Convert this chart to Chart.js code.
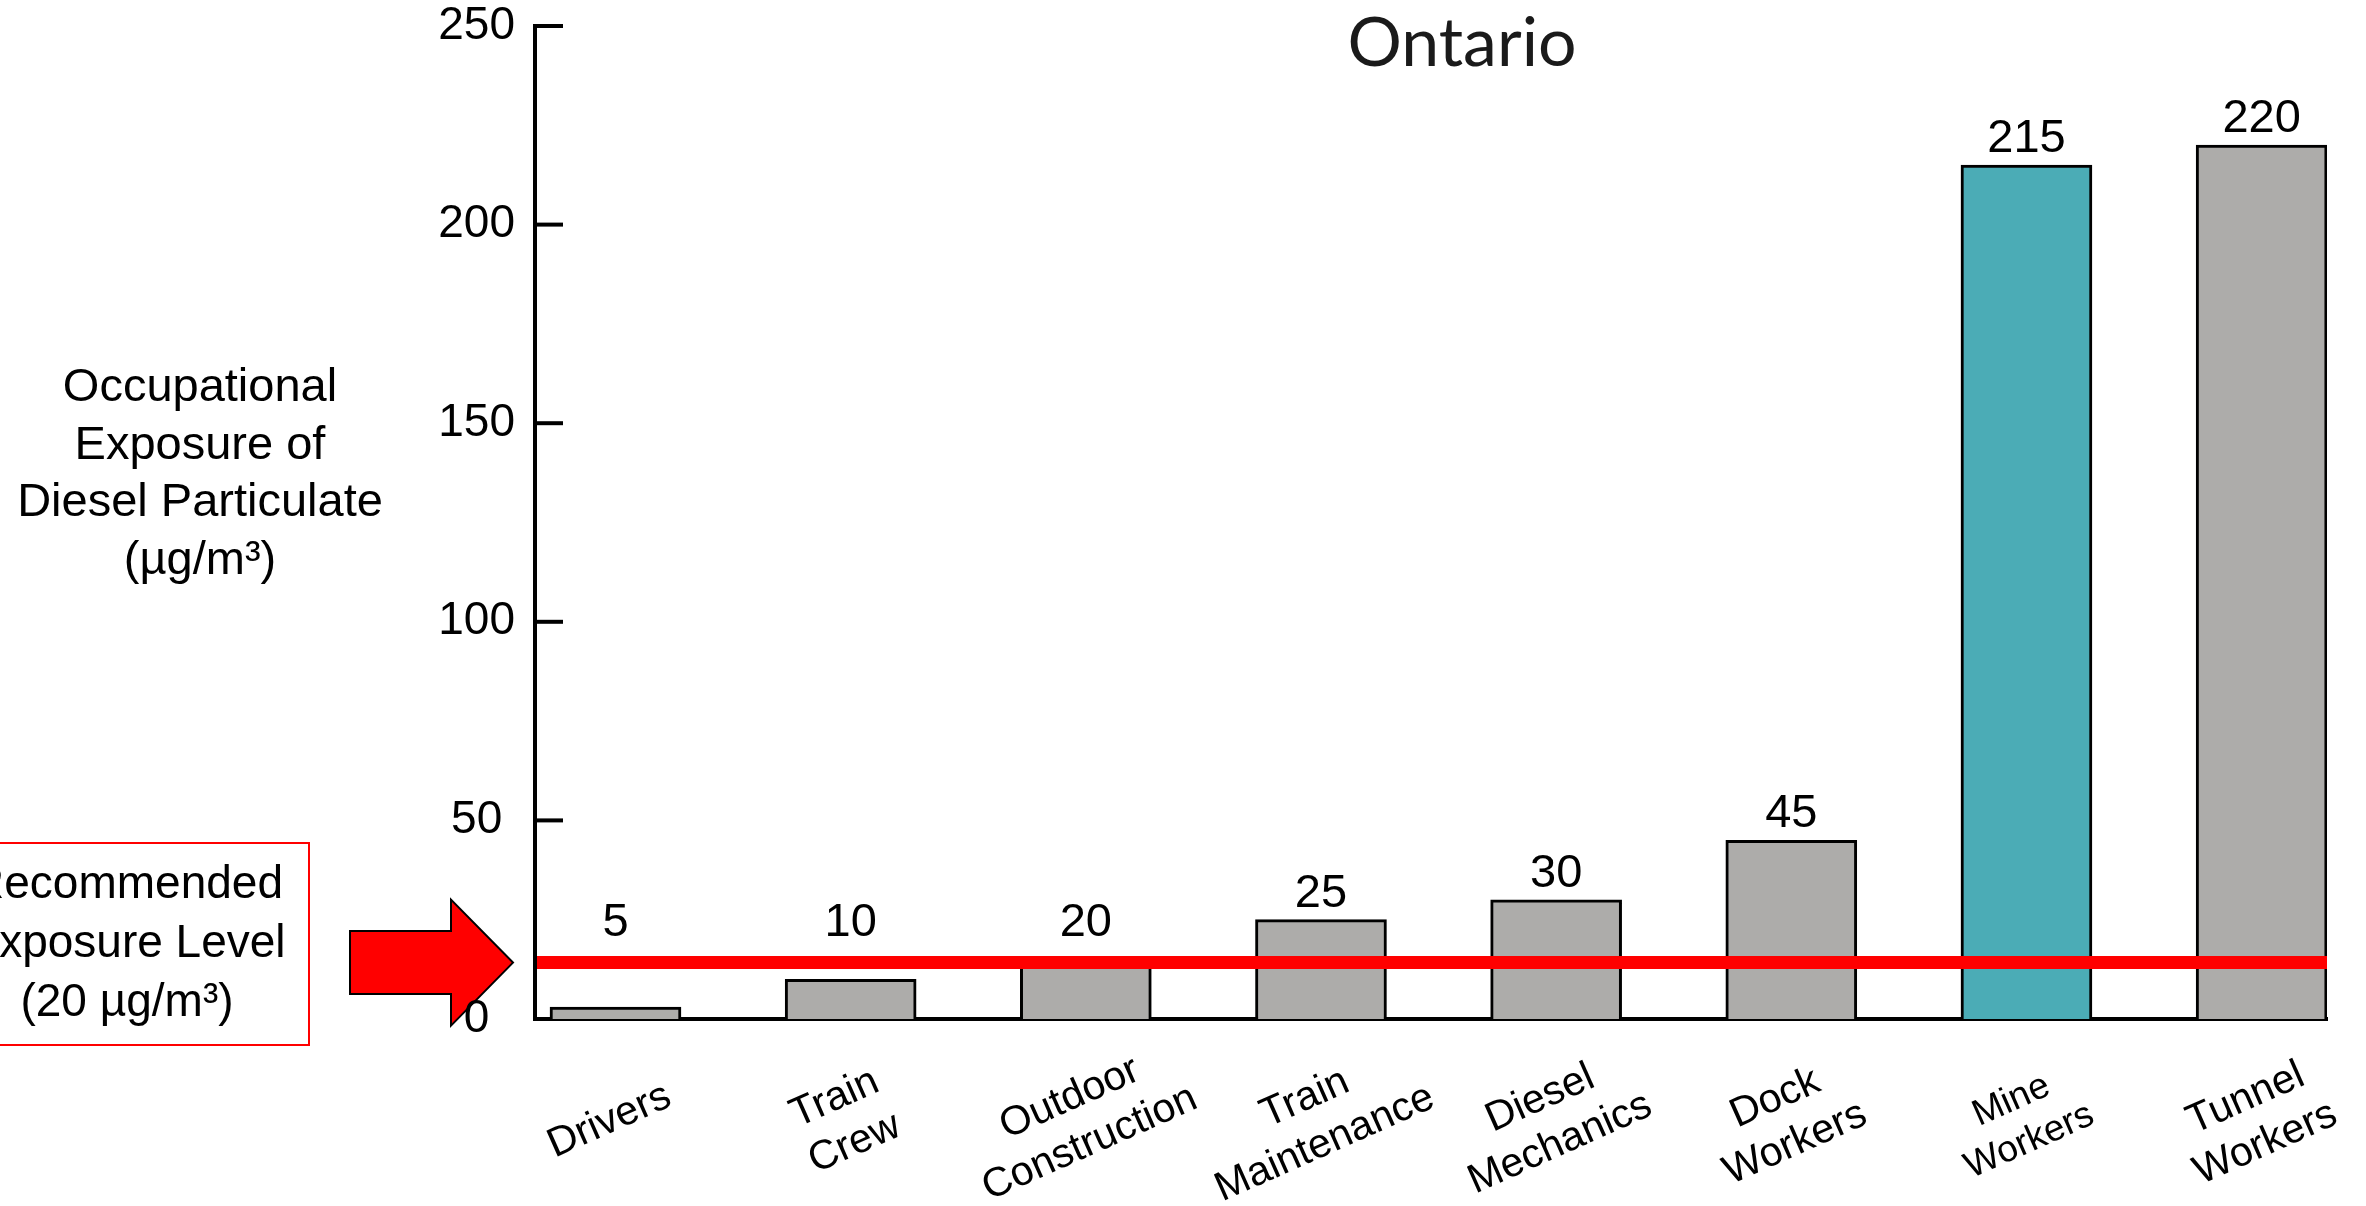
<!DOCTYPE html>
<html><head><meta charset="utf-8">
<script src="https://cdn.jsdelivr.net/npm/chart.js@4/dist/chart.umd.min.js"></script>
<style>html,body{margin:0;padding:0;background:#fff;overflow:hidden}canvas{display:block}</style>
</head><body>
<canvas id="c" width="2366" height="1206"></canvas>
<script>
// ---- data ----
const categories = [['Drivers'], ['Train', 'Crew'], ['Outdoor', 'Construction'], ['Train', 'Maintenance'], ['Diesel', 'Mechanics'], ['Dock', 'Workers'], ['Mine', 'Workers'], ['Tunnel', 'Workers']];
const exposureValues = [3, 10, 15, 25, 30, 45, 215, 220];
const valueLabels = ['5', '10', '20', '25', '30', '45', '215', '220'];
const yTicks = [0, 50, 100, 150, 200, 250];
const referenceLevel = 14.2;
const highlightCategory = 'Mine Workers';
const chartTitle = 'Ontario';
const yTitleLines = ['Occupational', 'Exposure of', 'Diesel Particulate', '(µg/m³)'];
const referenceLabelLines = ['Recommended', 'Exposure Level', '(20 µg/m³)'];

const FONT = '"Liberation Sans", Arial, sans-serif';
const GRAY = '#ADACAA', TEAL = '#4BACB6', RED = '#FF0000';

const overlay = {
  id: 'overlay',
  beforeDraw(chart) {
    // arrow pointing at the reference line (drawn first so the "0" tick label sits on top)
    const ctx = chart.ctx, ys = chart.scales.y, area = chart.chartArea;
    const ry = ys.getPixelForValue(referenceLevel);
    const tx = area.left - 22;
    ctx.save();
    ctx.beginPath();
    ctx.moveTo(tx - 163, ry - 31.5);
    ctx.lineTo(tx - 62, ry - 31.5);
    ctx.lineTo(tx - 62, ry - 63);
    ctx.lineTo(tx, ry);
    ctx.lineTo(tx - 62, ry + 63);
    ctx.lineTo(tx - 62, ry + 31.5);
    ctx.lineTo(tx - 163, ry + 31.5);
    ctx.closePath();
    ctx.fillStyle = RED; ctx.fill();
    ctx.strokeStyle = '#000'; ctx.lineWidth = 2; ctx.stroke();
    ctx.restore();
  },
  afterDraw(chart) {
    const ctx = chart.ctx, xs = chart.scales.x, ys = chart.scales.y, area = chart.chartArea;
    ctx.save();
    // inward tick marks
    ctx.strokeStyle = '#000'; ctx.lineWidth = 4;
    yTicks.forEach(v => {
      if (v === 0) return;
      const y = ys.getPixelForValue(v);
      ctx.beginPath(); ctx.moveTo(area.left, y); ctx.lineTo(area.left + 28, y); ctx.stroke();
    });
    // reference line
    const ry = ys.getPixelForValue(referenceLevel);
    ctx.strokeStyle = RED; ctx.lineWidth = 13;
    ctx.beginPath(); ctx.moveTo(area.left + 2, ry); ctx.lineTo(area.right, ry); ctx.stroke();
    // value labels
    ctx.fillStyle = '#000'; ctx.font = '47px ' + FONT; ctx.textAlign = 'center'; ctx.textBaseline = 'alphabetic';
    exposureValues.forEach((v, i) => {
      const x = xs.getPixelForValue(i);
      const y = ys.getPixelForValue(Math.max(v, referenceLevel + 3.5)) - 13;
      ctx.fillText(valueLabels[i], x, y);
    });
    // category labels (rotated)
    categories.forEach((lines, i) => {
      const hl = lines.join(' ') === highlightCategory;
      const size = hl ? 37 : 41, lh = size * 1.2;
      ctx.save();
      ctx.translate(xs.getPixelForValue(i) - 6, 1121);
      ctx.rotate(-24 * Math.PI / 180);
      ctx.font = size + 'px ' + FONT; ctx.textAlign = 'center'; ctx.textBaseline = 'middle'; ctx.fillStyle = '#000';
      const n = lines.length;
      lines.forEach((t, k) => ctx.fillText(t, 0, (k - (n - 1) / 2) * lh));
      ctx.restore();
    });
    // y-axis title
    ctx.font = '47px ' + FONT; ctx.textAlign = 'center'; ctx.textBaseline = 'alphabetic'; ctx.fillStyle = '#000';
    yTitleLines.forEach((t, k) => ctx.fillText(t, 200, 401 + k * 57.6));
    // reference label box
    ctx.strokeStyle = RED; ctx.lineWidth = 2;
    ctx.strokeRect(-10, 843, 319, 202);
    ctx.font = '46px ' + FONT; ctx.fillStyle = '#000';
    referenceLabelLines.forEach((t, k) => ctx.fillText(t, 127, 898 + k * 59));
    // title
    ctx.font = '68px Lato, "Open Sans", sans-serif'; ctx.fillStyle = '#1a1a1a'; ctx.textAlign = 'center';
    ctx.fillText(chartTitle, 1462, 66);
    ctx.restore();
  }
};

new Chart(document.getElementById('c'), {
  type: 'bar',
  data: {
    datasets: [{
      data: exposureValues.map((v, i) => ({ x: i, y: v })),
      backgroundColor: categories.map(c => c.join(' ') === highlightCategory ? TEAL : GRAY),
      borderColor: '#000',
      borderWidth: 3,
      borderSkipped: 'start',
      barThickness: 131
    }]
  },
  options: {
    responsive: false,
    animation: false,
    devicePixelRatio: 1,
    layout: { padding: { top: 26, right: 39, bottom: 0, left: 0 } },
    plugins: { legend: { display: false }, tooltip: { enabled: false }, title: { display: false } },
    scales: {
      x: {
        type: 'linear', min: -0.3423, max: 7.278, offset: false, z: 1,
        grid: { display: false, drawTicks: false, offset: false },
        border: { display: true, color: '#000', width: 4 },
        ticks: { display: false },
        afterFit(s) { s.height = 187; }
      },
      y: {
        min: 0, max: 250,
        afterBuildTicks(s) { s.ticks = yTicks.map(v => ({ value: v })); },
        grid: { display: false, drawTicks: true, tickLength: 20 },
        border: { display: true, color: '#000', width: 4 },
        ticks: { font: { family: FONT, size: 46, lineHeight: 1 }, color: '#000', padding: 0, crossAlign: 'center' },
        afterFit(s) { s.width = 535; }
      }
    }
  },
  plugins: [overlay]
});
</script>
</body></html>
